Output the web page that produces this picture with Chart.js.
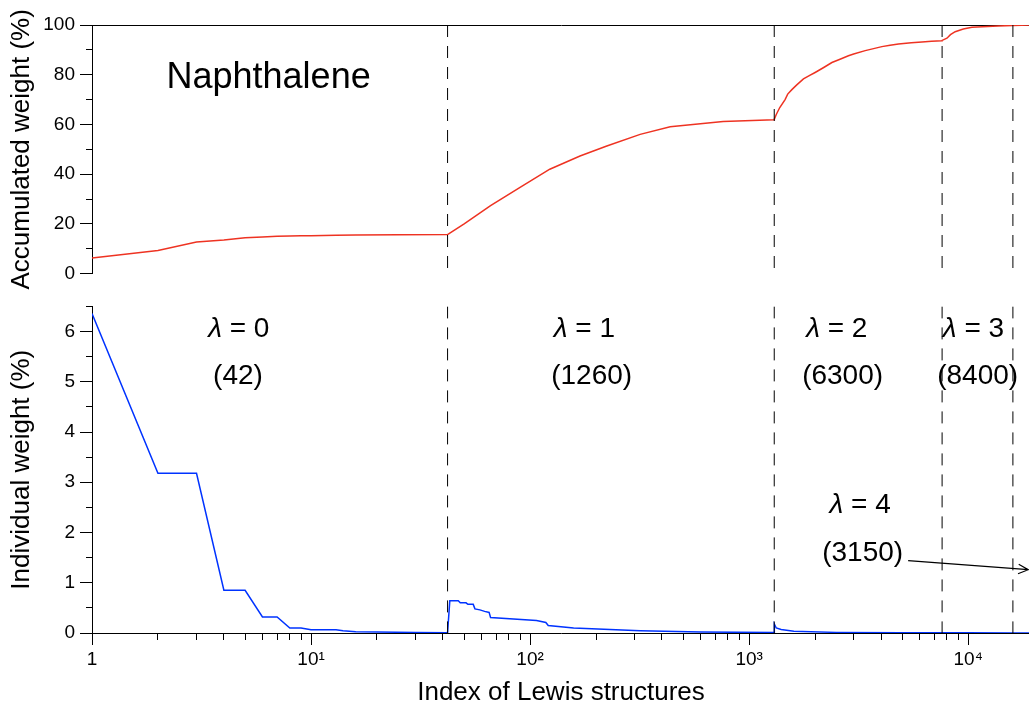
<!DOCTYPE html>
<html>
<head>
<meta charset="utf-8">
<script src="https://cdn.jsdelivr.net/npm/chart.js@4.4.1/dist/chart.umd.min.js"></script>
<style>
  html, body { margin: 0; padding: 0; background: #fff; overflow: hidden; }
  #wrap { position: relative; width: 1029px; height: 702px; overflow: hidden; }
  #topChart { position: absolute; left: 0; top: 0; }
  #bottomChart { position: absolute; left: 0; top: 290px; }
</style>
</head>
<body>
<div id="wrap">
  <canvas id="topChart" width="1030" height="290"></canvas>
  <canvas id="bottomChart" width="1030" height="430"></canvas>
</div>
<script>
// accumulated weight (%) vs index of Lewis structures
const accIndex = [1, 2, 3, 4, 5, 6, 7, 8, 9, 10, 13, 16, 25, 42,
                  43, 50, 66, 90, 123, 169, 224, 318, 436, 761, 1302,
                  1303, 1330, 1380, 1459, 1500, 1567, 1650, 1770, 1900, 2001, 2200, 2387, 2600, 2840,
                  3000, 3388, 3700, 4036, 4400, 4806, 5500, 6150, 6800, 7602,
                  7603, 8000, 8300, 8724, 9500, 10400, 13700, 16002, 19152];
const accWeight = [6.3, 9.3, 12.7, 13.5, 14.4, 14.7, 15.0, 15.1, 15.2, 15.27, 15.45, 15.55, 15.65, 15.7,
                   16.3, 20.0, 27.3, 34.7, 42.0, 47.3, 51.3, 56.0, 59.1, 61.2, 61.9,
                   62.1, 64.0, 66.8, 70.0, 72.2, 74.0, 75.9, 78.3, 79.8, 80.9, 83.0, 84.9, 86.2, 87.6,
                   88.3, 89.7, 90.5, 91.3, 91.85, 92.4, 92.85, 93.2, 93.45, 93.7,
                   93.8, 94.7, 96.1, 97.3, 98.4, 99.1, 99.6, 99.8, 100];

// individual weight (%)
const indIndex = [1, 2, 3, 4, 5, 6, 7, 8, 9, 10, 13, 14, 16, 20, 30, 42,
                  43, 47, 48, 51, 52, 55, 56, 59, 62, 65, 66, 107, 118, 121, 158, 318, 600, 1302,
                  1303, 1330, 1400, 1600, 2500, 5000, 7602,
                  7603, 10000, 16002, 16003, 19152];
const indWeight = [6.36, 3.18, 3.18, 0.85, 0.85, 0.32, 0.32, 0.10, 0.10, 0.065, 0.065, 0.045, 0.025, 0.02, 0.01, 0.005,
                   0.64, 0.64, 0.60, 0.60, 0.57, 0.57, 0.48, 0.46, 0.43, 0.41, 0.31, 0.25, 0.21, 0.15, 0.10, 0.045, 0.02, 0.008,
                   0.18, 0.10, 0.07, 0.035, 0.012, 0.005, 0.004,
                   0.006, 0.003, 0.001, 0.002, 0.001];

// block boundaries (last index of each lambda block)
const blockEnds = [42, 1302, 7602, 16002];
const xMax = 19152;
const lambdaValues = [0, 1, 2, 3, 4];
const blockCounts = [42, 1260, 6300, 8400, 3150];
const decadeValues = [1, 10, 100, 1000, 10000];
const decadeLabels = ['1', '10¹', '10²', '10³', '10⁴'];

const fontFamily = '"Liberation Sans", Arial, Helvetica, sans-serif';
Chart.defaults.font.family = fontFamily;
Chart.defaults.color = '#000';

const toPoints = (xs, ys) => xs.map((x, i) => ({ x: x, y: ys[i] }));

function boundaryLines(yTop) {
    return blockEnds.map(b => ({
        data: [{ x: b, y: yTop }, { x: b, y: 0 }],
        borderColor: '#000',
        borderWidth: 1,
        borderDash: [12, 9],
        pointRadius: 0
    }));
}

function drawLambda(ctx, rest, cx, cy, size) {
    ctx.font = 'italic ' + size + 'px ' + fontFamily;
    const wL = ctx.measureText('λ').width;
    ctx.font = size + 'px ' + fontFamily;
    const wR = ctx.measureText(rest).width;
    const x0 = cx - (wL + wR) / 2;
    ctx.textAlign = 'left';
    ctx.textBaseline = 'middle';
    ctx.font = 'italic ' + size + 'px ' + fontFamily;
    ctx.fillText('λ', x0, cy);
    ctx.font = size + 'px ' + fontFamily;
    ctx.fillText(rest, x0 + wL, cy);
}

// 위쪽 패널 텍스트
const topNotes = {
    id: 'topNotes',
    afterDatasetsDraw(chart) {
        const { ctx, scales: { x, y } } = chart;
        ctx.save();
        ctx.fillStyle = '#000';
        ctx.font = '36px ' + fontFamily;
        ctx.textAlign = 'center';
        ctx.textBaseline = 'middle';
        ctx.fillText('Naphthalene', x.getPixelForValue(6.4), y.getPixelForValue(78.5));
        ctx.restore();
    }
};

// 아래쪽 패널 텍스트 + 화살표
const lambdaSpots = [
    { lx: 4.68, ly: 6.05, cx: 4.64, cy: 5.10 },
    { lx: 177, ly: 6.05, cx: 191, cy: 5.10 },
    { lx: 2513, ly: 6.05, cx: 2671, cy: 5.10 },
    { lx: 10570, ly: 6.05, cx: 11050, cy: 5.10 },
    { lx: 3213, ly: 2.54, cx: 3297, cy: 1.58 }
];

const bottomNotes = {
    id: 'bottomNotes',
    afterDatasetsDraw(chart) {
        const { ctx, scales: { x, y } } = chart;
        ctx.save();
        ctx.fillStyle = '#000';
        lambdaSpots.forEach((s, i) => {
            drawLambda(ctx, ' = ' + lambdaValues[i], x.getPixelForValue(s.lx), y.getPixelForValue(s.ly), 28);
            ctx.font = '28px ' + fontFamily;
            ctx.textAlign = 'center';
            ctx.fillText('(' + blockCounts[i] + ')', x.getPixelForValue(s.cx), y.getPixelForValue(s.cy));
        });
        const sx = x.getPixelForValue(5320), sy = y.getPixelForValue(1.44);
        const ex = x.getPixelForValue(18800), ey = y.getPixelForValue(1.26);
        const a = Math.atan2(ey - sy, ex - sx);
        ctx.strokeStyle = '#000';
        ctx.lineWidth = 1.2;
        ctx.beginPath();
        ctx.moveTo(sx, sy);
        ctx.lineTo(ex, ey);
        ctx.moveTo(ex - 11 * Math.cos(a - 0.45), ey - 11 * Math.sin(a - 0.45));
        ctx.lineTo(ex, ey);
        ctx.lineTo(ex - 11 * Math.cos(a + 0.45), ey - 11 * Math.sin(a + 0.45));
        ctx.stroke();
        ctx.restore();
    }
};

const tickFont = { size: 19 };
const titleFont = { size: 26 };

// 누적 가중치 그래프
new Chart(document.getElementById('topChart').getContext('2d'), {
    type: 'line',
    data: {
        datasets: [
            ...boundaryLines(100),
            {
                data: toPoints(accIndex, accWeight),
                borderColor: '#ee3322',
                borderWidth: 1.5,
                pointRadius: 0,
                tension: 0
            }
        ]
    },
    options: {
        responsive: false,
        animation: false,
        layout: { padding: { top: 25, bottom: 15, left: 0, right: 0 } },
        plugins: { legend: { display: false }, tooltip: { enabled: false } },
        scales: {
            x: {
                type: 'logarithmic',
                position: 'top',
                min: 1,
                max: xMax,
                grid: { display: false },
                ticks: { display: false },
                border: { display: true, color: '#000', width: 1 },
                afterFit: s => { s.height = 0; }
            },
            y: {
                min: 0,
                max: 100,
                ticks: {
                    stepSize: 10,
                    font: tickFont,
                    padding: 5,
                    autoSkip: false,
                    callback: v => (v % 20 === 0 ? v : '')
                },
                grid: {
                    drawOnChartArea: false,
                    tickLength: 12,
                    tickColor: '#000',
                    tickWidth: 1,
                    tickBorderDash: c => (c.tick && c.tick.value % 20 !== 0 ? [0, 6, 6] : [])
                },
                border: { display: true, color: '#000', width: 1 },
                title: { display: true, text: 'Accumulated weight (%)', font: titleFont, padding: { top: 6, bottom: 0 } },
                afterFit: s => { s.width = 92; }
            }
        }
    },
    plugins: [topNotes]
});

// 개별 가중치 그래프
new Chart(document.getElementById('bottomChart').getContext('2d'), {
    type: 'line',
    data: {
        datasets: [
            ...boundaryLines(6.5),
            {
                data: toPoints(indIndex, indWeight),
                borderColor: '#0033ff',
                borderWidth: 1.5,
                pointRadius: 0,
                tension: 0
            }
        ]
    },
    options: {
        responsive: false,
        animation: false,
        layout: { padding: { top: 10, bottom: 0, left: 0, right: 0 } },
        plugins: { legend: { display: false }, tooltip: { enabled: false } },
        scales: {
            x: {
                type: 'logarithmic',
                position: 'bottom',
                min: 1,
                max: xMax,
                afterBuildTicks: scale => {
                    const t = [];
                    for (let p = 1; p <= xMax; p *= 10) {
                        for (let m = 1; m <= 9; m++) {
                            if (m * p <= xMax) t.push({ value: m * p });
                        }
                    }
                    scale.ticks = t;
                },
                ticks: {
                    font: tickFont,
                    padding: 3,
                    autoSkip: false,
                    maxRotation: 0,
                    callback: v => {
                        const k = decadeValues.indexOf(v);
                        return k >= 0 ? decadeLabels[k] : '';
                    }
                },
                grid: {
                    drawOnChartArea: false,
                    tickLength: 12,
                    tickColor: '#000',
                    tickWidth: 1,
                    tickBorderDash: c => (c.tick && decadeValues.indexOf(c.tick.value) < 0 ? [6, 30] : [])
                },
                border: { display: true, color: '#000', width: 1 },
                title: { display: true, text: 'Index of Lewis structures', font: titleFont, padding: { top: 0, bottom: 12 } },
                afterFit: s => { s.height = 87; }
            },
            y: {
                min: 0,
                max: 6.5,
                ticks: {
                    stepSize: 0.5,
                    font: tickFont,
                    padding: 5,
                    autoSkip: false,
                    callback: v => (Number.isInteger(v) ? v : '')
                },
                grid: {
                    drawOnChartArea: false,
                    tickLength: 12,
                    tickColor: '#000',
                    tickWidth: 1,
                    tickBorderDash: c => (c.tick && !Number.isInteger(c.tick.value) ? [0, 6, 6] : [])
                },
                border: { display: true, color: '#000', width: 1 },
                title: { display: true, text: 'Individual weight (%)', font: titleFont, padding: { top: 6, bottom: 0 } },
                afterFit: s => { s.width = 92; }
            }
        }
    },
    plugins: [bottomNotes]
});
</script>
</body>
</html>
